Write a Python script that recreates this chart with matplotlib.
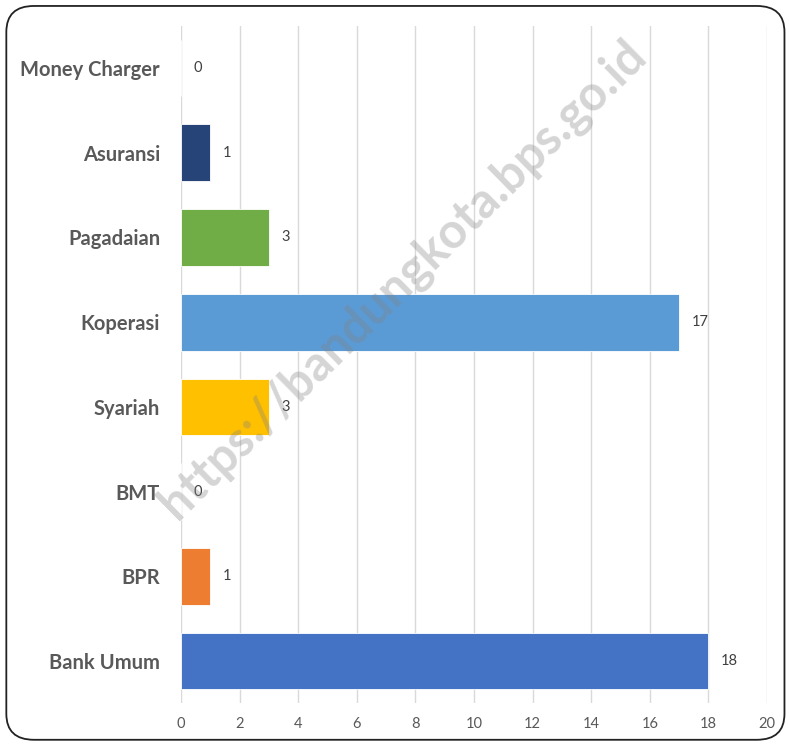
import matplotlib
matplotlib.use('Agg')
import matplotlib.pyplot as plt
from matplotlib.patches import FancyBboxPatch

plt.rcParams['font.family'] = ['Lato', 'DejaVu Sans']

# data (bottom to top)
categories = ['Bank Umum', 'BPR', 'BMT', 'Syariah', 'Koperasi', 'Pagadaian', 'Asuransi', 'Money Charger']
values = [18, 1, 0, 3, 17, 3, 1, 0]
colors = ['#4472C4', '#ED7D31', '#A5A5A5', '#FFC000', '#5B9BD5', '#70AD47', '#264478', '#9E480E']
xticks = [0, 2, 4, 6, 8, 10, 12, 14, 16, 18, 20]

fig = plt.figure(figsize=(7.9, 7.45), dpi=100)
ax = fig.add_axes([0.229, 0.0558, 0.742, 0.9098])

ypos = range(len(categories))
bars = ax.barh(ypos, values, height=0.67, color=colors, edgecolor='white', linewidth=0.6, zorder=2)

ax.set_xlim(0, 20)
ax.set_ylim(-0.5, len(categories) - 0.5)
ax.set_xticks(xticks)
ax.set_xticklabels([str(t) for t in xticks], fontsize=10.5, color='#595959')
ax.set_yticks(list(ypos))
ax.set_yticklabels(categories, fontsize=14.5, fontweight='bold', color='#595959')
ax.tick_params(axis='y', length=0, pad=15)
ax.tick_params(axis='x', length=0, pad=10)
ax.grid(axis='x', color='#D9D9D9', linewidth=1, zorder=0)
for s in ax.spines.values():
    s.set_visible(False)

for b, v in zip(bars, values):
    ax.annotate(str(v), (v, b.get_y() + b.get_height() / 2), xytext=(9, 0),
                textcoords='offset points', ha='left', va='center',
                fontsize=10.5, color='#404040')

# watermark
fig.text(0.51, 0.625, 'https://bandungkota.bps.go.id', rotation=44.5, ha='center', va='center',
         fontsize=35, fontweight='bold', color='#808080', alpha=0.33, zorder=10)

# rounded frame
frame = FancyBboxPatch((0.008, 0.007), 0.985, 0.985, boxstyle='round,pad=0,rounding_size=0.035',
                       transform=fig.transFigure, fill=False, edgecolor='#222222', linewidth=1.3)
fig.patches.append(frame)

fig.savefig('out.png', dpi=100)
